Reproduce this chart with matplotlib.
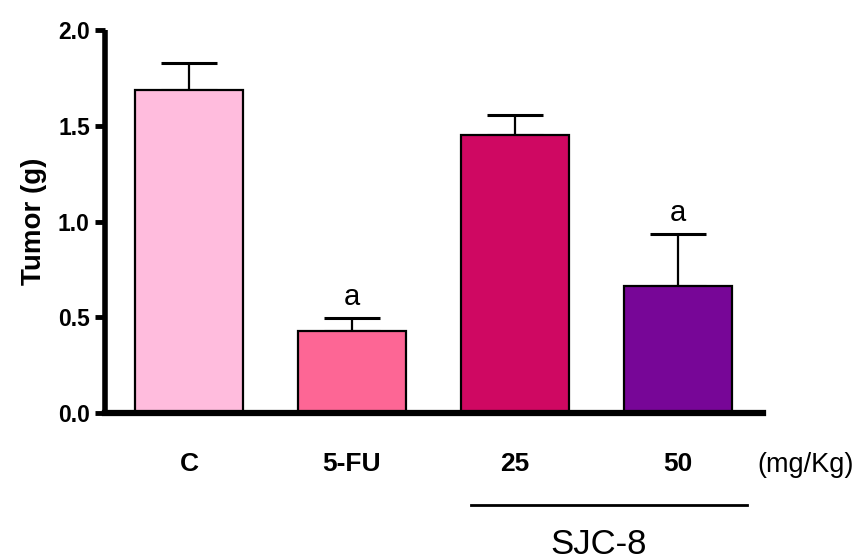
import numpy as np
import matplotlib.pyplot as plt

# Tumor weight per treatment group (mean and upper SEM)
groups = ["C", "5-FU", "25", "50"]
tumor_mean = [1.69, 0.43, 1.45, 0.665]
tumor_sem = [0.14, 0.065, 0.105, 0.27]
bar_colors = ["#FFBCDD", "#FD6695", "#CF0862", "#770697"]
sig_marks = ["", "a", "", "a"]

plt.rcParams["font.family"] = ["Liberation Sans", "DejaVu Sans"]

fig = plt.figure(figsize=(8.61, 5.59), dpi=100)
ax = fig.add_axes([0.122, 0.261, 0.764, 0.685])

x = np.arange(len(groups))
ax.bar(x, tumor_mean, width=0.665, color=bar_colors, edgecolor="black",
       linewidth=1.6, zorder=2)
ax.errorbar(x, tumor_mean, yerr=[np.zeros(len(x)), tumor_sem], fmt="none",
            ecolor="black", elinewidth=1.6, capsize=20, capthick=2.2, zorder=1)

for xi, m, s, lab in zip(x, tumor_mean, tumor_sem, sig_marks):
    if lab:
        ax.annotate(lab, (xi, m + s), xytext=(0, 5), textcoords="offset points",
                    ha="center", va="bottom", fontsize=21)

ax.set_xlim(-0.515, 3.52)
ax.set_ylim(0, 2.0)
ax.set_yticks([0.0, 0.5, 1.0, 1.5, 2.0])
ax.set_yticklabels(["0.0", "0.5", "1.0", "1.5", "2.0"], fontsize=16.5, fontweight="bold")
ax.set_xticks(x)
ax.set_xticklabels(groups, fontsize=19, fontweight="bold")
ax.tick_params(axis="x", length=0, pad=28)
ax.tick_params(axis="y", direction="out", length=7, width=3.5, pad=4)
ax.set_ylabel("Tumor (g)", fontsize=20, fontweight="bold", labelpad=8)

for side in ["top", "right"]:
    ax.spines[side].set_visible(False)
ax.spines["left"].set_linewidth(4)
ax.spines["bottom"].set_linewidth(4.5)
ax.spines["left"].set_capstyle("butt")

# dose unit and SJC-8 group bracket below the axis
trans = ax.get_xaxis_transform()
ax.text(3.785, -0.136, "(mg/Kg)", transform=trans, ha="center", va="center",
        fontsize=19.5)
ax.plot([1.73, 3.42], [-0.240, -0.240], transform=trans, color="black",
        linewidth=2, clip_on=False)
ax.text(2.51, -0.342, "SJC-8", transform=trans, ha="center", va="center",
        fontsize=25)

fig.savefig("out.png", dpi=100)
